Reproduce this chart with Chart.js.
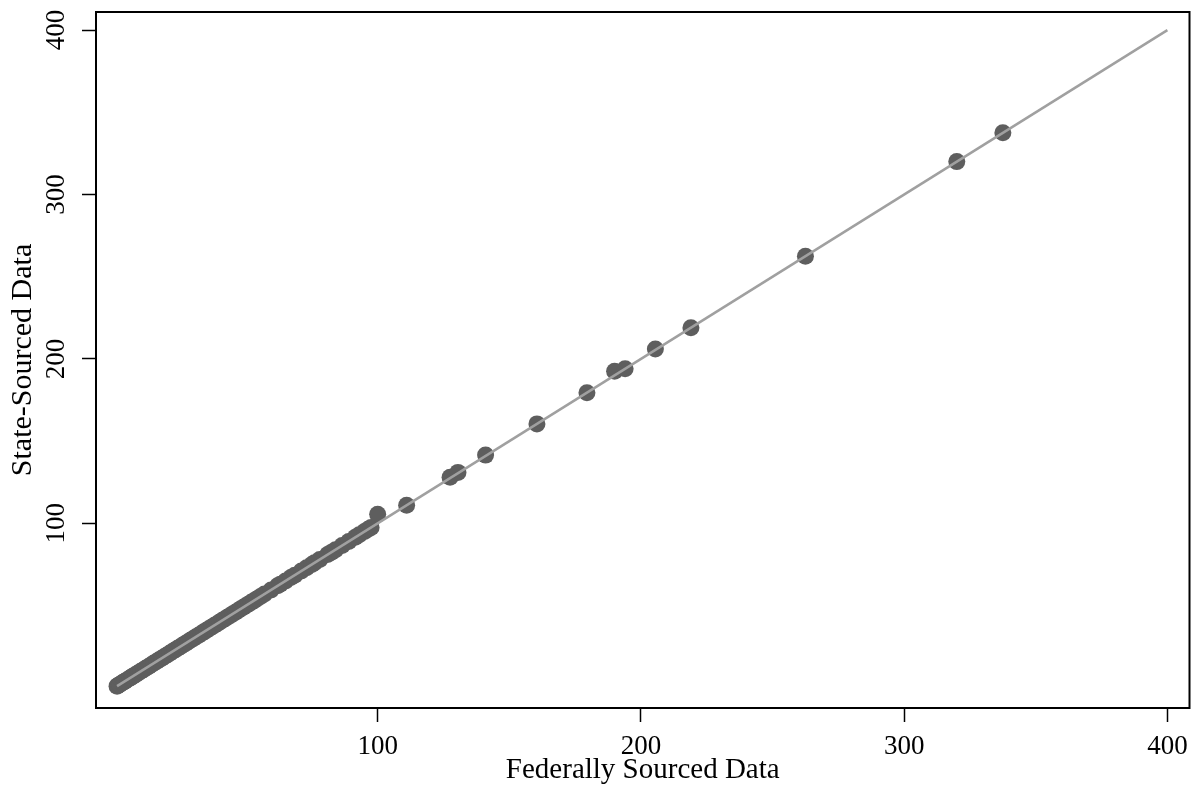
<!DOCTYPE html>
<html>
<head>
<meta charset="utf-8">
<script src="https://cdn.jsdelivr.net/npm/chart.js@4"></script>
<style>
  html, body { margin: 0; padding: 0; background: #fff; }
  #wrap { width: 1198px; height: 793px; }
</style>
</head>
<body>
<div id="wrap"><canvas id="scatter" width="1198" height="793"></canvas></div>
<script>
// Federally sourced vs state-sourced values, one entry per observation
const fedValues = [1, 1.5, 2, 3, 3.5, 4, 5, 6, 6.5, 7, 8, 9, 10, 11, 12, 13, 14, 15, 16, 17,
  18, 19, 20, 21, 22, 23, 24, 25, 26, 27, 28, 29, 30, 31, 32, 33, 34, 35, 36, 37,
  38, 39, 40, 41, 42, 43, 44, 45, 46, 47, 48, 49, 50, 51, 52, 53, 54, 55.5, 57, 59.5,
  62, 63, 65, 67, 68.5, 71, 73, 75, 76, 78, 81, 82.5, 84, 86.5, 89, 91.5, 93, 95, 96.5, 97.5,
  100, 111, 127.5, 130.5, 141, 160.5, 179.5, 190, 194, 205.5, 219, 262.5, 320, 337.5];
const stateValues = [1, 1.5, 2, 3, 3.5, 4, 5, 6, 6.5, 7, 8, 9, 10, 11, 12, 13, 14, 15, 16, 17,
  18, 19, 20, 21, 22, 23, 24, 25, 26, 27, 28, 29, 30, 31, 32, 33, 34, 35, 36, 37,
  38, 39, 40, 41, 42, 43, 44, 45, 46, 47, 48, 49, 50, 51, 52, 53, 54, 55.5, 57, 59.5,
  62, 63, 65, 67, 68.5, 71, 73, 75, 76, 78, 81, 82.5, 84, 86.5, 89, 91.5, 93, 95, 96.5, 97.5,
  105.5, 111, 128, 131, 141.5, 160.5, 179.5, 192.5, 194, 206, 219, 262.5, 320, 337.5];

// 45-degree reference line
const lineX = [1, 400];
const lineY = [1, 400];

const xTicks = [100, 200, 300, 400];
const yTicks = [100, 200, 300, 400];

const serif = '"Liberation Serif", "Times New Roman", serif';

// full black frame around the plot area
const frame = {
  id: 'frame',
  afterDraw(chart) {
    const a = chart.chartArea;
    const ctx = chart.ctx;
    ctx.save();
    ctx.strokeStyle = '#000';
    ctx.lineWidth = 2;
    ctx.strokeRect(a.left, a.top, a.right - a.left, a.bottom - a.top);
    ctx.restore();
  }
};

// y tick labels, rotated and centred on their tick
const yLabels = {
  id: 'yLabels',
  afterDraw(chart) {
    const scale = chart.scales.y;
    const ctx = chart.ctx;
    ctx.save();
    ctx.fillStyle = '#000';
    ctx.font = '27px ' + serif;
    ctx.textAlign = 'center';
    ctx.textBaseline = 'middle';
    yTicks.forEach(v => {
      const py = scale.getPixelForValue(v);
      ctx.save();
      ctx.translate(57, py);
      ctx.rotate(-Math.PI / 2);
      ctx.fillText(String(v), 0, 0);
      ctx.restore();
    });
    ctx.restore();
  }
};

const ctx = document.getElementById('scatter').getContext('2d');
new Chart(ctx, {
  type: 'scatter',
  data: {
    datasets: [
      {
        type: 'line',
        label: 'Equality',
        data: lineX.map((x, i) => ({ x: x, y: lineY[i] })),
        borderColor: '#a0a0a0',
        borderWidth: 2.5,
        pointRadius: 0,
        fill: false,
        order: 0
      },
      {
        label: 'Observations',
        data: fedValues.map((x, i) => ({ x: x, y: stateValues[i] })),
        backgroundColor: '#5e5e5e',
        borderColor: '#5e5e5e',
        borderWidth: 0,
        pointRadius: 8.5,
        order: 1
      }
    ]
  },
  options: {
    responsive: false,
    animation: false,
    layout: { padding: { top: 12, right: 8, left: 0, bottom: 0 } },
    plugins: {
      legend: { display: false },
      tooltip: { enabled: false }
    },
    scales: {
      x: {
        type: 'linear',
        min: -7,
        max: 408.4,
        afterBuildTicks: scale => { scale.ticks = xTicks.map(v => ({ value: v })); },
        afterFit: scale => { scale.height = 85; },
        grid: { drawOnChartArea: false, color: '#000', tickLength: 14, tickWidth: 1.5 },
        border: { display: false },
        ticks: { color: '#000', font: { family: serif, size: 27 }, padding: 9, maxRotation: 0 },
        title: { display: true, text: 'Federally Sourced Data', color: '#000',
          font: { family: serif, size: 29 }, padding: { top: 0, bottom: 5 } }
      },
      y: {
        type: 'linear',
        min: -12.3,
        max: 411,
        afterBuildTicks: scale => { scale.ticks = yTicks.map(v => ({ value: v })); },
        afterFit: scale => { scale.width = 96; },
        grid: { drawOnChartArea: false, color: '#000', tickLength: 14, tickWidth: 1.5 },
        border: { display: false },
        ticks: { display: false },
        title: { display: true, text: 'State-Sourced Data', color: '#000',
          font: { family: serif, size: 30 }, padding: { top: 5, bottom: 0 } }
      }
    }
  },
  plugins: [frame, yLabels]
});
</script>
</body>
</html>
